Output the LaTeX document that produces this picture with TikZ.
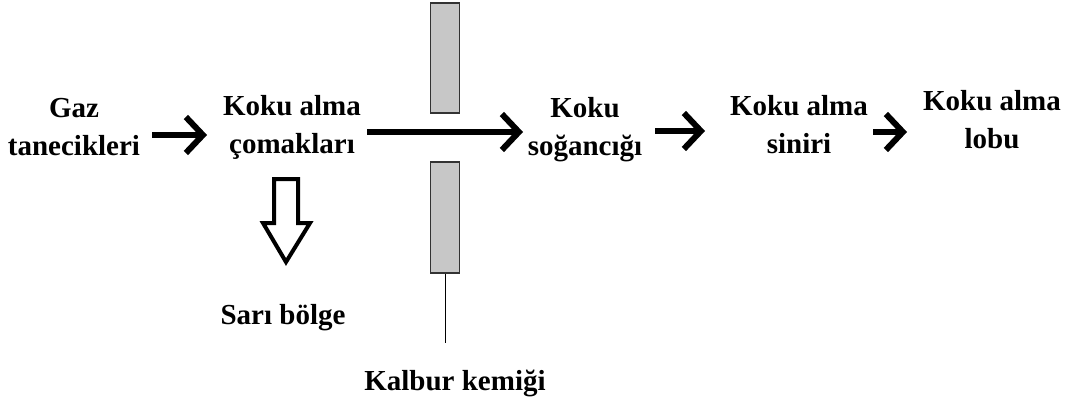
\documentclass[tikz,border=0pt]{standalone}
\usepackage{fontspec}
\setmainfont{Liberation Serif}
\usetikzlibrary{arrows.meta}
\begin{document}
\begin{tikzpicture}[x=1pt,y=-1pt,
  lbl/.style={font=\bfseries\fontsize{29}{38}\selectfont,align=center,inner sep=0pt},
  flow/.style={line width=6pt,-{Straight Barb[length=17pt,width=36pt]}},
  bone/.style={draw=black!80,line width=1.5pt,fill=black!22}]
\useasboundingbox (0,0) rectangle (1067,409);
\node[lbl] (gaz) at (74,127) {Gaz\\tanecikleri};
\node[lbl] (kac) at (292,127) {Koku alma\\çomakları};
\node[lbl] (ks) at (585,130) {Koku\\soğancığı};
\node[lbl] (kas) at (799,125) {Koku alma\\siniri};
\node[lbl] (kal) at (992,120) {Koku alma\\lobu};
\node[lbl] (sari) at (283,318) {Sarı bölge};
\node[lbl] (kalbur) at (455,383) {Kalbur kemiği};
\coordinate (a1s) at (152,135); \coordinate (a1e) at (207,135);
\draw[flow] (a1s) -- (a1e);
\coordinate (a2s) at (367,132); \coordinate (a2e) at (523,132);
\draw[flow] (a2s) -- (a2e);
\coordinate (a3s) at (655,131); \coordinate (a3e) at (705,131);
\draw[flow] (a3s) -- (a3e);
\coordinate (a4s) at (873,132); \coordinate (a4e) at (907,132);
\draw[flow] (a4s) -- (a4e);
\node[bone,minimum width=29pt,minimum height=110pt,inner sep=0pt] (top) at (445,58) {};
\node[bone,minimum width=29pt,minimum height=111pt,inner sep=0pt] (bot) at (445,217.5) {};
\coordinate (lineend) at (445,343);
\draw[line width=1pt] (bot.south) -- (lineend);
\draw[line width=4pt,line join=miter,fill=white]
  (274,179) -- (298,179) -- (298,223) -- (310,223) -- (286,262) -- (263,223) -- (274,223) -- cycle;
\end{tikzpicture}
\end{document}
